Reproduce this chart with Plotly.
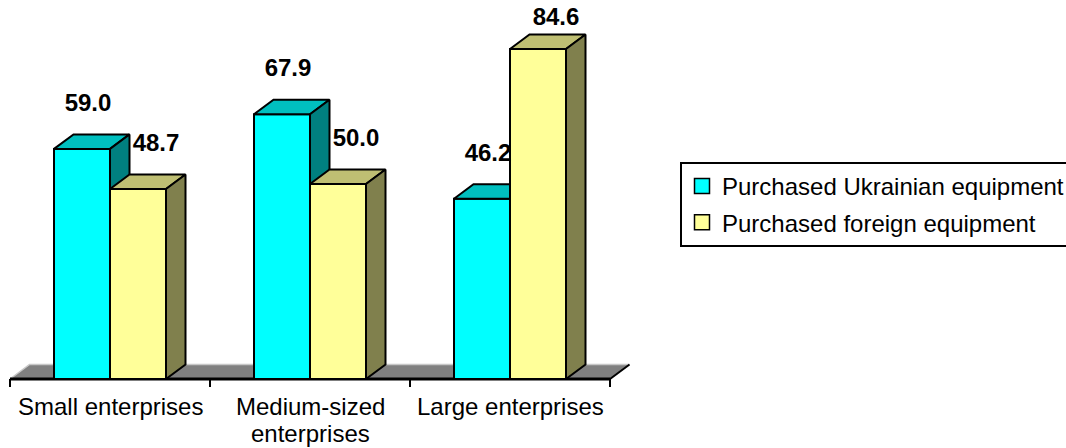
import plotly.graph_objects as go

# Share of enterprises (%) by size group and origin of purchased equipment
categories = ["Small enterprises", "Medium-sized<br>enterprises", "Large enterprises"]
ukrainian = [59.0, 67.9, 46.2]
foreign = [48.7, 50.0, 84.6]
series_names = ["Purchased Ukrainian equipment", "Purchased foreign equipment"]

FONT = "Arial, 'Liberation Sans', sans-serif"
FONT_SIZE = 24

# pixel geometry of the plotting area
PLOT_H_PX = 395
PX_PER_CAT = 200.0
PX_PER_UNIT = 3.9
X_RANGE = [-0.55, 2.75]
Y_TOP = 379 / PX_PER_UNIT
Y_RANGE = [-(PLOT_H_PX - 379) / PX_PER_UNIT, Y_TOP]

# pseudo-3D depth of bars and floor
DX = 19.5 / PX_PER_CAT
DY = 14.5 / PX_PER_UNIT
BAR_W = 56 / PX_PER_CAT
TICK = 8 / PX_PER_UNIT
LABEL_TOP_PX = 391
LABEL_LINE_PX = 27

styles = [
    dict(values=ukrainian, offset=-BAR_W, front="#00FFFF", top="#00BFBF", side="#008080",
         label_dx=6 / PX_PER_CAT),
    dict(values=foreign, offset=0.0, front="#FFFF99", top="#BFBF73", side="#80804D",
         label_dx=18 / PX_PER_CAT),
]

fig = go.Figure()

n = len(categories)
left, right = -0.5, n - 0.5

# floor
fig.add_trace(go.Scatter(
    x=[left, right, right + DX, left + DX, left],
    y=[0, 0, DY, DY, 0],
    mode="lines", fill="toself", fillcolor="#808080",
    line=dict(width=0), hoverinfo="skip", showlegend=False))
fig.add_trace(go.Scatter(
    x=[left, left + DX, right + DX], y=[0, DY, DY],
    mode="lines", line=dict(color="#C8C8C8", width=1.5),
    hoverinfo="skip", showlegend=False))
fig.add_trace(go.Scatter(
    x=[right, right + DX], y=[0, DY],
    mode="lines", line=dict(color="black", width=2),
    hoverinfo="skip", showlegend=False))

# category axis line and tick marks at category boundaries
tx, ty = [], []
for b in range(n + 1):
    tx += [b - 0.5, b - 0.5, None]
    ty += [0, -TICK, None]
fig.add_trace(go.Scatter(x=tx, y=ty, mode="lines", line=dict(color="black", width=2),
                         hoverinfo="skip", showlegend=False))
fig.add_trace(go.Scatter(x=[left, right], y=[0, 0], mode="lines",
                         line=dict(color="black", width=3),
                         hoverinfo="skip", showlegend=False))


def faces(vals, offset):
    fx, fy, tpx, tpy, sx, sy = [], [], [], [], [], []
    for i, v in enumerate(vals):
        xl = i + offset
        xr = xl + BAR_W
        fx += [xl, xr, xr, xl, xl, None]
        fy += [0, 0, v, v, 0, None]
        tpx += [xl, xr, xr + DX, xl + DX, xl, None]
        tpy += [v, v, v + DY, v + DY, v, None]
        sx += [xr, xr + DX, xr + DX, xr, xr, None]
        sy += [0, DY, v + DY, v, 0, None]
    return (fx, fy), (tpx, tpy), (sx, sy)


for s in styles:
    front, top, side = faces(s["values"], s["offset"])
    for (xs, ys), col in [(front, s["front"]), (top, s["top"]), (side, s["side"])]:
        fig.add_trace(go.Scatter(
            x=xs, y=ys, mode="lines", fill="toself", fillcolor=col,
            line=dict(color="black", width=2), hoverinfo="skip", showlegend=False))

# value labels above each bar
label_cap = Y_TOP - 18.5 / PX_PER_UNIT
for s in styles:
    xs = [i + s["offset"] + BAR_W / 2 + s["label_dx"] for i in range(n)]
    ys = [min(v + DY + 7.6, label_cap) for v in s["values"]]
    fig.add_trace(go.Scatter(
        x=xs, y=ys, mode="text", text=[f"{v:.1f}" for v in s["values"]],
        textposition="middle center",
        textfont=dict(family=FONT, size=FONT_SIZE, color="black", weight="bold"),
        hoverinfo="skip", showlegend=False))

# legend entries
for k, (name, s) in enumerate(zip(series_names, styles)):
    fig.add_trace(go.Scatter(
        x=[None], y=[None], mode="markers", name=name, legendgroup=f"g{k}",
        marker=dict(symbol="square", size=15, color=s["front"],
                    line=dict(color="black", width=1.5))))

# category labels under the axis, one line at a time for tighter line spacing
for i, c in enumerate(categories):
    for j, line in enumerate(c.split("<br>")):
        top_px = LABEL_TOP_PX + LABEL_LINE_PX * j
        fig.add_annotation(x=i, y=1 - top_px / PLOT_H_PX,
                           xref="x", yref="paper", text=line,
                           showarrow=False, yanchor="top", xanchor="center",
                           font=dict(family=FONT, size=FONT_SIZE, color="black"))

fig.update_layout(
    width=1066, height=448,
    margin=dict(l=0, r=406, t=0, b=448 - PLOT_H_PX, autoexpand=False),
    paper_bgcolor="white", plot_bgcolor="white",
    xaxis=dict(range=X_RANGE, visible=False, fixedrange=True),
    yaxis=dict(range=Y_RANGE, visible=False, fixedrange=True),
    showlegend=True,
    legend=dict(x=680 / 660, xanchor="left", y=1 - 162 / PLOT_H_PX, yanchor="top",
                bgcolor="white", bordercolor="black", borderwidth=2,
                tracegroupgap=2,
                font=dict(family=FONT, size=FONT_SIZE, color="black"),
                itemclick=False, itemdoubleclick=False),
    hovermode=False,
)

fig.write_html("out.html")
